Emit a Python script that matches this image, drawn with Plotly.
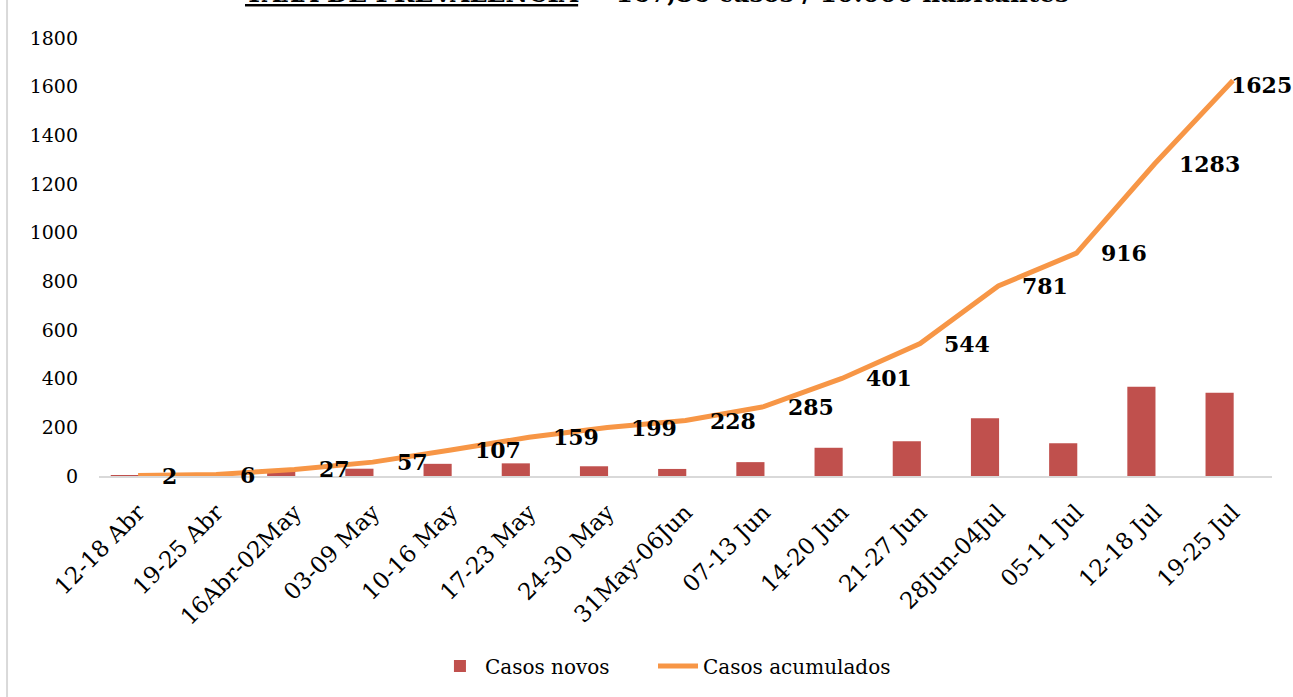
import plotly.graph_objects as go

categories = ["12-18 Abr", "19-25 Abr", "16Abr-02May", "03-09 May", "10-16 May",
              "17-23 May", "24-30 May", "31May-06Jun", "07-13 Jun", "14-20 Jun",
              "21-27 Jun", "28Jun-04Jul", "05-11 Jul", "12-18 Jul", "19-25 Jul"]
casos_novos = [2, 4, 21, 30, 50, 52, 40, 29, 57, 116, 143, 237, 135, 367, 342]
casos_acumulados = [2, 6, 27, 57, 107, 159, 199, 228, 285, 401, 544, 781, 916, 1283, 1625]
y_ticks = [0, 200, 400, 600, 800, 1000, 1200, 1400, 1600, 1800]
title_text = "<u>TAXA DE PREVALENCIA</u> = 167,86 casos / 10.000 habitantes"

BAR_COLOR = "#C0504D"
LINE_COLOR = "#F79646"
FONT = "DejaVu Serif"

fig = go.Figure()
fig.add_trace(go.Bar(
    x=categories, y=casos_novos, name="Casos novos",
    marker=dict(color=BAR_COLOR, line=dict(width=0)),
    width=0.36, offset=-0.35, legend="legend",
))
fig.add_trace(go.Scatter(
    x=categories, y=casos_acumulados, name="Casos acumulados",
    mode="lines", line=dict(color=LINE_COLOR, width=5), legend="legend2",
))

annotations = []
for i, (c, v) in enumerate(zip(categories, casos_acumulados)):
    last = i == len(categories) - 1
    annotations.append(dict(
        x=c, y=v, xref="x", yref="y", text=f"<b>{v}</b>", showarrow=False,
        xanchor="left", yanchor="middle", xshift=-4 if last else 22, yshift=-4 if last else 0,
        font=dict(family=FONT, size=22, color="black"),
    ))
annotations.append(dict(
    x=0.4757, y=1, xref="paper", yref="paper", text=f"<b>{title_text}</b>",
    showarrow=False, xanchor="center", yanchor="middle", yshift=45,
    font=dict(family=FONT, size=24.6, color="black"),
))

legend_common = dict(orientation="h", xanchor="left", y=-0.434, yanchor="middle",
                     font=dict(family=FONT, size=20, color="black"), itemwidth=40,
                     bgcolor="rgba(0,0,0,0)")

fig.update_layout(
    width=1293, height=697,
    margin=dict(l=99, r=21, t=38, b=221),
    paper_bgcolor="white", plot_bgcolor="white",
    font=dict(family=FONT, size=19, color="black"),
    showlegend=True,
    legend=dict(x=0.2864, **legend_common),
    legend2=dict(x=0.4723, **legend_common),
    annotations=annotations,
    shapes=[dict(type="line", xref="paper", yref="paper", x0=-0.0784, x1=-0.0784,
                 y0=-0.6, y1=1.2, line=dict(color="#D9D9D9", width=2))],
)
fig.update_xaxes(
    type="category", range=[-0.5, 14.5], showgrid=False, showline=True,
    linecolor="#D9D9D9", linewidth=1.5,
    tickangle=-45, tickfont=dict(family=FONT, size=23, color="black"),
    ticks="", ticklabelstandoff=12,
)
fig.update_yaxes(
    range=[0, 1800], tickvals=y_ticks, showgrid=False, zeroline=False, showline=False,
    tickfont=dict(family=FONT, size=19, color="black"), ticks="", ticklabelstandoff=20,
)

fig.write_html("out.html", config={"displayModeBar": False},
               post_script="document.body.style.margin='0';")
